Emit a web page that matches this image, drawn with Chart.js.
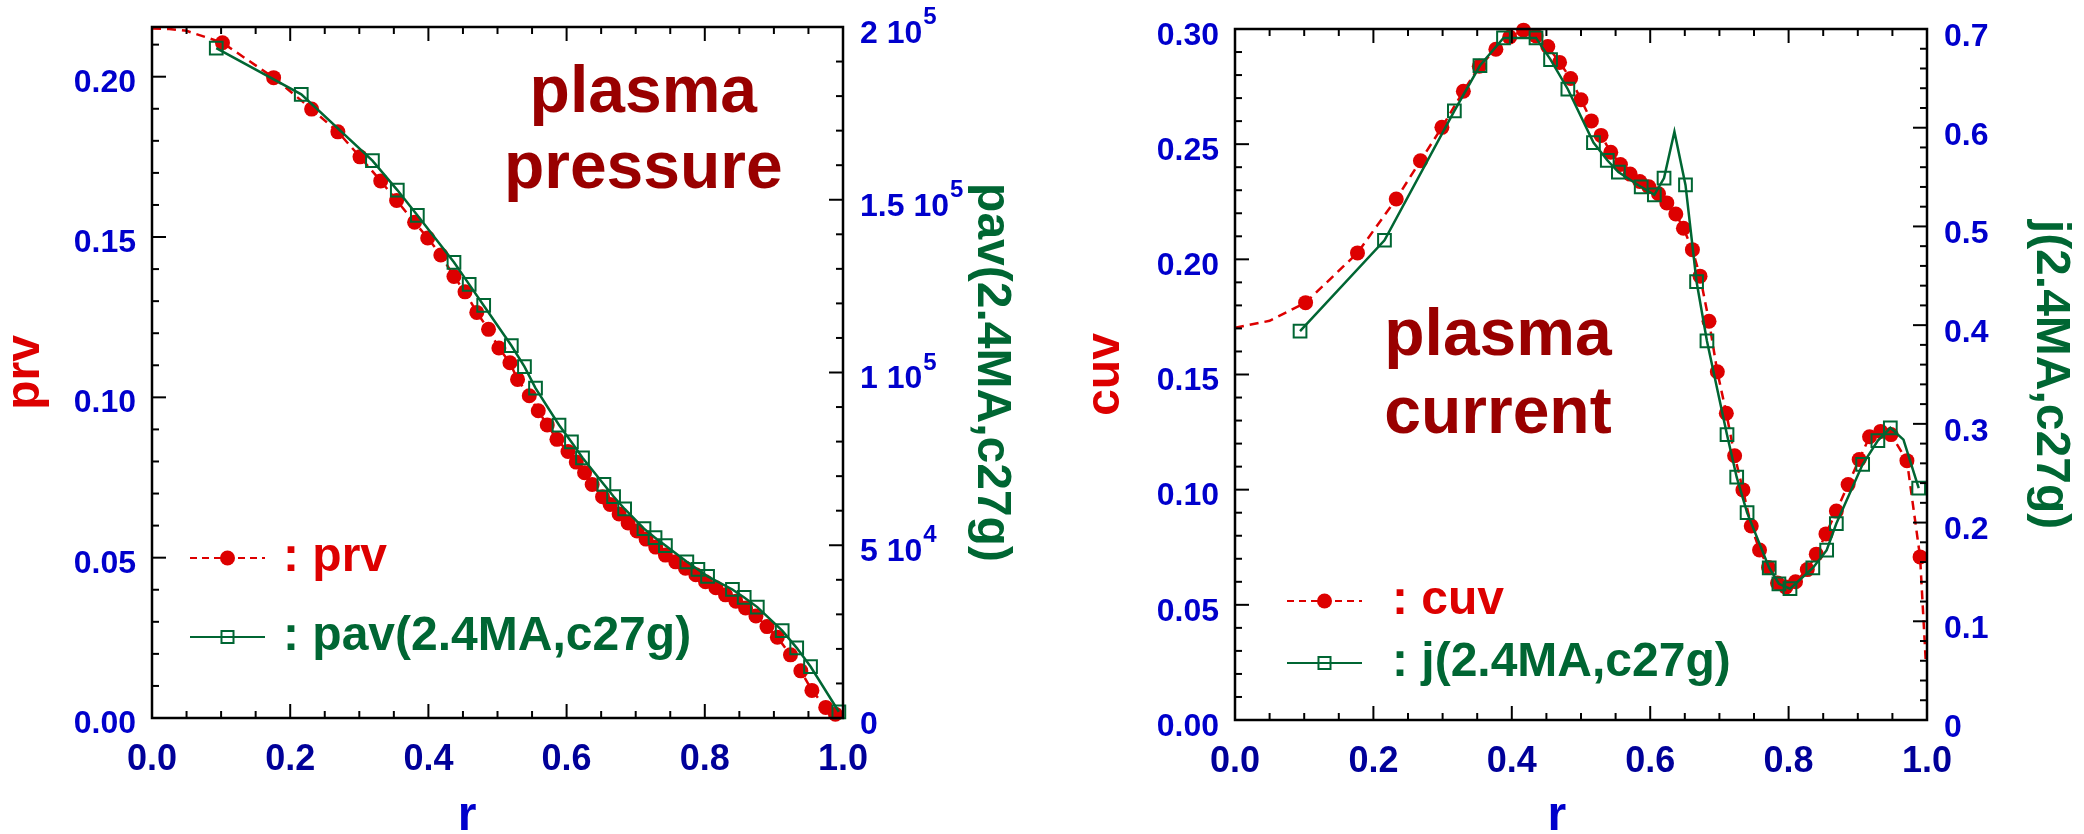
<!DOCTYPE html>
<html>
<head>
<meta charset="utf-8">
<title>plasma profiles</title>
<script src="https://cdn.jsdelivr.net/npm/chart.js@4.4.1/dist/chart.umd.min.js"></script>
<style>
  html, body { margin: 0; padding: 0; background: #fff; }
  #wrap { position: relative; width: 2084px; height: 834px; overflow: hidden; }
  .panel { position: absolute; top: 0; height: 834px; }
  #left { left: 0; width: 1040px; }
  #right { left: 1040px; width: 1044px; }
</style>
</head>
<body>
<div id="wrap">
  <div class="panel" id="left"><canvas id="pressure-chart"></canvas></div>
  <div class="panel" id="right"><canvas id="current-chart"></canvas></div>
</div>
<script>
// ---- pressure panel ----
var rPrv = [0.102, 0.176, 0.231, 0.269, 0.301, 0.331, 0.354, 0.380, 0.399, 0.418, 0.437, 0.453, 0.470, 0.487, 0.502, 0.518, 0.529, 0.546, 0.559, 0.572,
            0.586, 0.602, 0.614, 0.626, 0.637, 0.652, 0.663, 0.676, 0.689, 0.702, 0.715, 0.729, 0.743, 0.758, 0.772, 0.787, 0.801, 0.816, 0.830, 0.845,
            0.859, 0.874, 0.890, 0.905, 0.924, 0.939, 0.955, 0.975, 0.989];
var prv = [0.2106, 0.1997, 0.1899, 0.1828, 0.1750, 0.1675, 0.1614, 0.1546, 0.1497, 0.1444, 0.1377, 0.1329, 0.1265, 0.1212, 0.1154, 0.1108, 0.1056, 0.1005, 0.0958, 0.0914,
           0.0869, 0.0831, 0.0798, 0.0765, 0.0728, 0.0690, 0.0666, 0.0636, 0.0608, 0.0583, 0.0558, 0.0533, 0.0508, 0.0487, 0.0467, 0.0447, 0.0425, 0.0406, 0.0384, 0.0364,
           0.0343, 0.0318, 0.0285, 0.0252, 0.0197, 0.0147, 0.0086, 0.0033, 0.0012];
// dashed prv curve continues to the axis without dots
var rPrvBare = [0, 0.025, 0.05];
var prvBare = [0.2150, 0.2149, 0.2143];

var rPav = [0.093, 0.216, 0.319, 0.355, 0.384, 0.437, 0.459, 0.480, 0.520, 0.539, 0.555, 0.589, 0.607, 0.623, 0.654,
            0.668, 0.684, 0.712, 0.728, 0.743, 0.774, 0.790, 0.804, 0.840, 0.857, 0.876, 0.912, 0.933, 0.953, 0.994];
var pav = [193900, 180500, 161300, 152800, 145500, 131900, 125500, 119400, 107800, 101700, 95500, 84800, 79900, 75300, 67600,
           64100, 60500, 54800, 52200, 49900, 45200, 43000, 41000, 37200, 34900, 32100, 25300, 20300, 14900, 1800];

// ---- current panel ----
var rCuv = [0.102, 0.177, 0.233, 0.268, 0.299, 0.330, 0.353, 0.377, 0.397, 0.417, 0.435, 0.452, 0.469, 0.485, 0.500, 0.515, 0.529, 0.543, 0.557, 0.571,
            0.585, 0.598, 0.612, 0.624, 0.637, 0.648, 0.661, 0.672, 0.685, 0.697, 0.710, 0.722, 0.734, 0.746, 0.758, 0.771, 0.784, 0.796, 0.810, 0.827,
            0.840, 0.854, 0.869, 0.886, 0.902, 0.917, 0.933, 0.948, 0.971, 0.990];
var cuv = [0.1812, 0.2028, 0.2262, 0.2428, 0.2573, 0.2730, 0.2838, 0.2912, 0.2965, 0.2995, 0.2970, 0.2924, 0.2855, 0.2785, 0.2693, 0.2601, 0.2538, 0.2465, 0.2412, 0.2370,
           0.2338, 0.2315, 0.2285, 0.2245, 0.2197, 0.2135, 0.2042, 0.1927, 0.1731, 0.1512, 0.1332, 0.1147, 0.0999, 0.0842, 0.0738, 0.0662, 0.0595, 0.0577, 0.0600, 0.0653,
           0.0720, 0.0808, 0.0907, 0.1022, 0.1131, 0.1230, 0.1253, 0.1239, 0.1126, 0.0708];
var rCuvBare = [0, 0.05, 0.998];
var cuvBare = [0.1703, 0.1733, 0.0265];

var rJ = [0.094, 0.216, 0.317, 0.354, 0.388, 0.435, 0.456, 0.481, 0.518, 0.538, 0.554, 0.587, 0.606, 0.620, 0.651,
          0.667, 0.682, 0.711, 0.725, 0.740, 0.772, 0.786, 0.802, 0.835, 0.855, 0.869, 0.907, 0.929, 0.947, 0.988];
var jCur = [0.394, 0.486, 0.617, 0.663, 0.691, 0.691, 0.669, 0.639, 0.585, 0.567, 0.555, 0.540, 0.532, 0.549, 0.542,
            0.444, 0.384, 0.289, 0.246, 0.210, 0.154, 0.138, 0.133, 0.154, 0.172, 0.199, 0.259, 0.283, 0.296, 0.235];
// kinks of the j line that carry no square
var rJBare = [0.635, 0.966];
var jBare = [0.596, 0.284];

// axis ticks
var rTicks = [0, 0.2, 0.4, 0.6, 0.8, 1.0];
var prvTicks = [0, 0.05, 0.10, 0.15, 0.20];
var pavTicks = [0, 50000, 100000, 150000, 200000];
var cuvTicks = [0, 0.05, 0.10, 0.15, 0.20, 0.25, 0.30];
var jTicks = [0, 0.1, 0.2, 0.3, 0.4, 0.5, 0.6, 0.7];

var FONT = '"Liberation Sans", Arial, Helvetica, sans-serif';
var RED = '#dd0000', GREEN = '#006633', DARKRED = '#990000', BLUE = '#0000cc', NAVY = '#000099';

function points(rs, vs, bare) {
    return rs.map(function (r, i) { return {x: r, y: vs[i], bare: !!bare}; });
}
function merged(a, b) {
    return a.concat(b).sort(function (p, q) { return p.x - q.x; });
}
function fixedTicks(list) {
    return function (scale) {
        scale.ticks = list.map(function (v) { return {value: v}; });
    };
}
function fixedSize(prop, px) {
    return function (scale) {
        scale[prop] = px;
        scale.paddingTop = 0; scale.paddingBottom = 0;
        scale.paddingLeft = 0; scale.paddingRight = 0;
    };
}
// 2e5 -> "2 10" (exponent drawn separately, raised)
function sciBase(v) {
    if (v === 0) return '0';
    var e = Math.floor(Math.log10(v) + 1e-9);
    return (Math.round(v / Math.pow(10, e) * 100) / 100) + ' 10';
}
function sciExp(v) {
    return v === 0 ? '' : String(Math.floor(Math.log10(v) + 1e-9));
}

function redSet(label, data) {
    return {
        label: label, data: data, yAxisID: 'y', order: 1, clip: false,
        borderColor: RED, borderWidth: 2.5, borderDash: [9, 6], tension: 0, fill: false,
        pointStyle: 'circle', pointBackgroundColor: RED, pointBorderWidth: 0,
        pointRadius: function (c) { return c.raw && c.raw.bare ? 0 : 7.5; }
    };
}
function greenSet(label, data) {
    return {
        label: label, data: data, yAxisID: 'y2', order: 0, clip: false,
        borderColor: GREEN, borderWidth: 2.5, tension: 0, fill: false,
        pointStyle: 'rect', pointBackgroundColor: 'rgba(0,0,0,0)', pointBorderColor: GREEN, pointBorderWidth: 2,
        pointRadius: function (c) { return c.raw && c.raw.bare ? 0 : 9; }
    };
}

function line(ctx, x0, y0, x1, y1) {
    ctx.beginPath(); ctx.moveTo(x0, y0); ctx.lineTo(x1, y1); ctx.stroke();
}
function eachTick(scale, step, draw) {
    var minor = step[0], major = step[1];
    var n = Math.floor((scale.max - scale.min) / minor + 1e-6);
    for (var i = 0; i <= n; i++) {
        var v = scale.min + i * minor;
        var q = v / major;
        draw(scale.getPixelForValue(v), Math.abs(q - Math.round(q)) < 1e-6 ? 14 : 7);
    }
}

// frame with inward ticks, exponents, caption, x title and legend
var decor = {
    id: 'decor',
    afterDraw: function (chart, args, o) {
        var ctx = chart.ctx, a = chart.chartArea;
        var sx = chart.scales.x, sy = chart.scales.y, s2 = chart.scales.y2;
        ctx.save();

        ctx.strokeStyle = '#000';
        ctx.lineWidth = 2;
        eachTick(sx, o.xStep, function (px, len) {
            line(ctx, px, a.bottom, px, a.bottom - len);
            line(ctx, px, a.top, px, a.top + len);
        });
        eachTick(sy, o.yStep, function (py, len) { line(ctx, a.left, py, a.left + len, py); });
        eachTick(s2, o.y2Step, function (py, len) { line(ctx, a.right, py, a.right - len, py); });
        ctx.lineWidth = 2.5;
        ctx.strokeRect(a.left, a.top, a.right - a.left, a.bottom - a.top);

        if (o.exponents) {
            var t = s2.options.ticks;
            s2.ticks.forEach(function (tk, i) {
                var ex = sciExp(tk.value);
                if (!ex) return;
                ctx.font = 'bold 32px ' + FONT;
                var x = a.right + t.padding + ctx.measureText(tk.label).width + 1;
                var y = s2.getPixelForTick(i) + t.labelOffset - 10;
                ctx.font = 'bold 24px ' + FONT;
                ctx.fillStyle = BLUE;
                ctx.textAlign = 'left';
                ctx.textBaseline = 'alphabetic';
                ctx.fillText(ex, x, y);
            });
        }

        ctx.font = 'bold 66px ' + FONT;
        ctx.fillStyle = DARKRED;
        ctx.textAlign = 'center';
        ctx.textBaseline = 'alphabetic';
        var cx = sx.getPixelForValue(o.caption.r), cy = sy.getPixelForValue(o.caption.v);
        o.caption.lines.forEach(function (txt, i) { ctx.fillText(txt, cx, cy + i * o.caption.lead); });

        ctx.font = 'bold 48px ' + FONT;
        ctx.fillStyle = BLUE;
        ctx.fillText('r', sx.getPixelForValue(o.xTitleAt), chart.height - 4);

        var lg = o.legend;
        chart.data.datasets.forEach(function (ds, i) {
            var y = a.top + lg.rows[i], x0 = a.left + lg.x0, x1 = a.left + lg.x1;
            ctx.strokeStyle = ds.borderColor;
            ctx.lineWidth = 2;
            ctx.setLineDash(ds.borderDash ? [7, 5] : []);
            line(ctx, x0, y, x1, y);
            ctx.setLineDash([]);
            var round = ds.pointStyle === 'circle';
            ctx.fillStyle = round ? ds.pointBackgroundColor : 'rgba(0,0,0,0)';
            ctx.lineWidth = round ? 0 : 2;
            Chart.helpers.drawPoint(ctx, {pointStyle: ds.pointStyle, rotation: 0, radius: round ? 7.5 : 8.5,
                                          borderWidth: round ? 0 : 2}, (x0 + x1) / 2, y);
            ctx.font = 'bold 48px ' + FONT;
            ctx.fillStyle = ds.borderColor;
            ctx.textAlign = 'left';
            ctx.fillText(': ' + ds.label, a.left + lg.text, y + 13);
        });
        ctx.restore();
    }
};

function axisTitle(text, color, padTop) {
    return {display: true, text: text, color: color, padding: {top: padTop, bottom: 0},
            font: {family: FONT, size: 48, weight: 'bold', lineHeight: 1}};
}
function tickFont(size) {
    return {family: FONT, size: size, weight: 'bold'};
}
var hidden = {display: false, drawTicks: false};

function panel(id, cfg) {
    return new Chart(document.getElementById(id), {
        type: 'line',
        data: {datasets: cfg.datasets},
        plugins: [decor],
        options: {
            animation: false,
            responsive: true,
            maintainAspectRatio: false,
            layout: {padding: {top: cfg.top, left: 0, right: 0, bottom: 0}},
            plugins: {
                legend: {display: false},
                tooltip: {enabled: false},
                decor: cfg.decor
            },
            scales: {
                x: {
                    type: 'linear', min: 0, max: 1,
                    afterBuildTicks: fixedTicks(rTicks),
                    afterFit: fixedSize('height', cfg.xHeight),
                    grid: hidden, border: {display: false},
                    ticks: {color: NAVY, font: tickFont(36), padding: 20, maxRotation: 0, autoSkip: false,
                            callback: function (v) { return v.toFixed(1); }}
                },
                y: {
                    type: 'linear', position: 'left', min: 0, max: cfg.yMax,
                    afterBuildTicks: fixedTicks(cfg.yTicks),
                    afterFit: fixedSize('width', cfg.yWidth),
                    grid: hidden, border: {display: false},
                    ticks: {color: BLUE, font: tickFont(32), padding: 16, labelOffset: cfg.labelOffset, autoSkip: false,
                            callback: function (v) { return v.toFixed(2); }},
                    title: axisTitle(cfg.yTitle, RED, cfg.yTitlePad)
                },
                y2: {
                    type: 'linear', position: 'right', min: 0, max: cfg.y2Max,
                    afterBuildTicks: fixedTicks(cfg.y2Ticks),
                    afterFit: fixedSize('width', cfg.y2Width),
                    grid: hidden, border: {display: false},
                    ticks: {color: BLUE, font: tickFont(32), padding: 17, labelOffset: cfg.labelOffset + 1, autoSkip: false,
                            callback: cfg.y2Label},
                    title: axisTitle(cfg.y2Title, GREEN, cfg.y2TitlePad)
                }
            }
        }
    });
}

panel('pressure-chart', {
    datasets: [
        redSet('prv', merged(points(rPrv, prv), points(rPrvBare, prvBare, true))),
        greenSet('pav(2.4MA,c27g)', points(rPav, pav))
    ],
    top: 27, xHeight: 116, yWidth: 152, y2Width: 197,
    yMax: 0.2155, yTicks: prvTicks, yTitle: 'prv', yTitlePad: 2,
    y2Max: 200000, y2Ticks: pavTicks, y2Title: 'pav(2.4MA,c27g)', y2TitlePad: 25,
    y2Label: sciBase, labelOffset: 6,
    decor: {
        xStep: [0.05, 0.2], yStep: [0.01, 0.05], y2Step: [10000, 50000],
        exponents: true,
        caption: {lines: ['plasma', 'pressure'], r: 0.711, v: 0.1891, lead: 76},
        xTitleAt: 0.456,
        legend: {x0: 38, x1: 113, text: 131, rows: [531, 610]}
    }
});

panel('current-chart', {
    datasets: [
        redSet('cuv', merged(points(rCuv, cuv), points(rCuvBare, cuvBare, true))),
        greenSet('j(2.4MA,c27g)', merged(points(rJ, jCur), points(rJBare, jBare, true)))
    ],
    top: 29, xHeight: 114, yWidth: 195, y2Width: 157,
    yMax: 0.30, yTicks: cuvTicks, yTitle: 'cuv', yTitlePad: 42,
    y2Max: 0.7, y2Ticks: jTicks, y2Title: 'j(2.4MA,c27g)', y2TitlePad: 10,
    y2Label: function (v) { return v === 0 ? '0' : v.toFixed(1); }, labelOffset: 7,
    decor: {
        xStep: [0.05, 0.2], yStep: [0.01, 0.05], y2Step: [0.02, 0.1],
        exponents: false,
        caption: {lines: ['plasma', 'current'], r: 0.38, v: 0.1584, lead: 78},
        xTitleAt: 0.465,
        legend: {x0: 52, x1: 127, text: 157, rows: [572, 634]}
    }
});
</script>
</body>
</html>
